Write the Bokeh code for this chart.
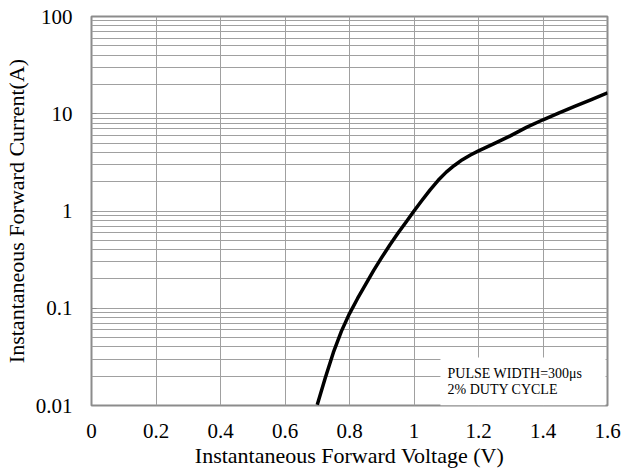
from bokeh.plotting import figure
from bokeh.models import FixedTicker, CustomJSTickFormatter, BoxAnnotation, Label
from bokeh.embed import file_html
from bokeh.resources import INLINE

# Data
voltage = [0.700, 0.725, 0.750, 0.775, 0.800, 0.825, 0.850, 0.875, 0.900, 0.925,
           0.950, 0.975, 1.000, 1.025, 1.050, 1.075, 1.100, 1.125, 1.150, 1.175,
           1.200, 1.250, 1.300, 1.350, 1.400, 1.450, 1.500, 1.550, 1.600]
current = [0.0102, 0.0193, 0.0351, 0.0582, 0.0881, 0.126, 0.176, 0.245, 0.333, 0.447,
           0.589, 0.767, 1.0, 1.29, 1.65, 2.07, 2.51, 2.94, 3.37, 3.77,
           4.15, 4.95, 5.96, 7.28, 8.67, 10.2, 11.97, 14.0, 16.4]

x_ticks = [0, 0.2, 0.4, 0.6, 0.8, 1.0, 1.2, 1.4, 1.6]
y_ticks = [0.01, 0.1, 1, 10, 100]
y_grid = [d * m for d in [0.01, 0.1, 1, 10] for m in range(1, 10)] + [100]
note_lines = ["PULSE WIDTH=300\u03bcs", "2% DUTY CYCLE"]

FONT = "Liberation Serif"
GRID = "#a0a0a0"

p = figure(frame_width=516, frame_height=389,
           x_range=(0, 1.6), y_range=(0.01, 100), y_axis_type="log",
           output_backend="svg", toolbar_location=None,
           min_border_left=91, min_border_top=16, min_border_right=14,
           min_border_bottom=67)
p.background_fill_color = "white"
p.border_fill_color = "white"
p.outline_line_color = "#8c8c8c"
p.outline_line_width = 2

p.xgrid.ticker = FixedTicker(ticks=x_ticks)
p.ygrid.ticker = FixedTicker(ticks=y_grid)
for g in (p.xgrid, p.ygrid):
    g.grid_line_color = GRID
    g.grid_line_width = 1

p.xaxis.ticker = FixedTicker(ticks=x_ticks)
p.yaxis.ticker = FixedTicker(ticks=y_ticks)
p.xaxis.formatter = CustomJSTickFormatter(code="return String(Math.round(tick*10)/10);")
p.yaxis.formatter = CustomJSTickFormatter(code="return String(Number(tick.toPrecision(6)));")

for ax in (p.xaxis, p.yaxis):
    ax.axis_line_color = None
    ax.major_tick_line_color = "#8c8c8c"
    ax.major_tick_in = 0
    ax.major_tick_out = 0
    ax.minor_tick_line_color = None
    ax.major_label_text_font = FONT
    ax.major_label_text_font_size = "21px"
    ax.major_label_text_color = "black"
    ax.axis_label_text_font = FONT
    ax.axis_label_text_font_size = "22px"
    ax.axis_label_text_font_style = "normal"
    ax.axis_label_text_color = "black"
p.yaxis.major_tick_in = 5

p.xaxis.axis_label = "Instantaneous Forward Voltage (V)"
p.yaxis.axis_label = "Instantaneous Forward Current(A)"
p.xaxis.major_label_standoff = 18
p.yaxis.major_label_standoff = 19
p.xaxis.axis_label_standoff = 2
p.yaxis.axis_label_standoff = 4

p.line(voltage, current, line_color="black", line_width=3.5, line_join="round")

box = BoxAnnotation(left=1.082, right=1.594, bottom=0.01, top=0.0311,
                    fill_color="white", fill_alpha=1.0, line_color=None)
p.add_layout(box)
p.add_layout(Label(x=1.104, y=0.0213, text=note_lines[0], text_font=FONT,
                   text_font_size="14px", text_color="black", text_baseline="alphabetic"))
p.add_layout(Label(x=1.104, y=0.0146, text=note_lines[1], text_font=FONT,
                   text_font_size="14px", text_color="black", text_baseline="alphabetic"))

open("out.html", "w").write(file_html(p, INLINE))
